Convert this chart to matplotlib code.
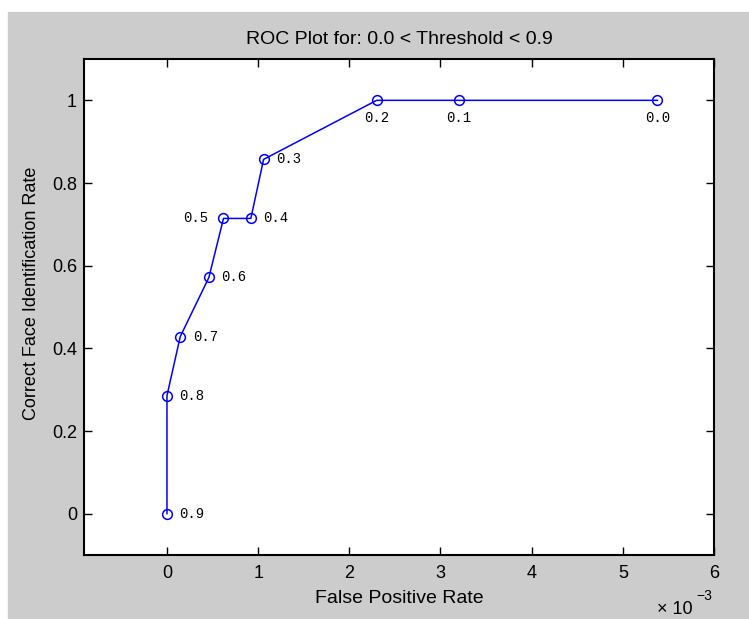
import matplotlib
matplotlib.use("Agg")
import matplotlib.pyplot as plt
from matplotlib.patches import Rectangle

# ROC points, one per threshold
thresholds = ["0.9", "0.8", "0.7", "0.6", "0.5", "0.4", "0.3", "0.2", "0.1", "0.0"]
fp_rate = [0.0, 0.0, 0.146e-3, 0.46e-3, 0.62e-3, 0.92e-3, 1.06e-3, 2.30e-3, 3.20e-3, 5.38e-3]
correct_rate = [0 / 7, 2 / 7, 3 / 7, 4 / 7, 5 / 7, 5 / 7, 6 / 7, 1.0, 1.0, 1.0]

W, H = 749, 619
fig = plt.figure(figsize=(W / 100, H / 100), dpi=100, facecolor="white")
# gray panel behind the axes (white margin at top/left like the source)
fig.patches.append(Rectangle((8 / W, 0), 1 - 8 / W, 1 - 12 / H,
                             transform=fig.transFigure, color="#cccccc", zorder=-10))

ax = fig.add_axes([84 / W, 1 - 555 / H, 630 / W, 496 / H])
ax.set_facecolor("white")

ax.plot(fp_rate, correct_rate, "-o", color="blue", lw=1.1,
        markersize=7, markerfacecolor="none", markeredgewidth=1.1)

label_font = dict(family=["Liberation Mono", "DejaVu Sans Mono"], fontsize=10)
for t, x, y in zip(thresholds, fp_rate, correct_rate):
    if t == "0.5":
        ax.annotate(t, (x, y), xytext=(-11, 0), textcoords="offset points",
                    ha="right", va="center", **label_font)
    elif y == 1.0:
        ax.annotate(t, (x, y), xytext=(0, -8), textcoords="offset points",
                    ha="center", va="top", **label_font)
    else:
        ax.annotate(t, (x, y), xytext=(9, 0), textcoords="offset points",
                    ha="left", va="center", **label_font)

ax.set_xlim(-0.91e-3, 6e-3)
ax.set_ylim(-0.1, 1.1)
xt = [0, 1e-3, 2e-3, 3e-3, 4e-3, 5e-3, 6e-3]
ax.set_xticks(xt)
ax.set_xticklabels(["0", "1", "2", "3", "4", "5", "6"])
ax.set_yticks([0, 0.2, 0.4, 0.6, 0.8, 1.0])
ax.set_yticklabels(["0", "0.2", "0.4", "0.6", "0.8", "1"])

tick_font = ["Liberation Sans Narrow", "Liberation Sans", "DejaVu Sans"]
for lab in ax.get_xticklabels() + ax.get_yticklabels():
    lab.set_family(tick_font)
    lab.set_fontsize(13)

ax.tick_params(direction="in", length=6, width=1, top=True, right=True)
ax.tick_params(axis="x", pad=7)
ax.tick_params(axis="y", pad=5)
for sp in ax.spines.values():
    sp.set_linewidth(1.5)

ax.set_title("ROC Plot for: 0.0 < Threshold < 0.9", family=tick_font, fontsize=14, pad=11)
ax.set_xlabel("False Positive Rate", family=tick_font, fontsize=14, labelpad=6)
ax.set_ylabel("Correct Face Identification Rate", family=tick_font, fontsize=13)
ax.yaxis.set_label_coords(-0.07, 0.528)

fig.text(657 / W, 1 - 609 / H, "\u00d7 10", family=tick_font, fontsize=13,
         ha="left", va="center")
fig.text(696 / W, 1 - 596 / H, "\u22123", family=tick_font, fontsize=10,
         ha="left", va="center")

fig.savefig("out.png", dpi=100, facecolor=fig.get_facecolor())
